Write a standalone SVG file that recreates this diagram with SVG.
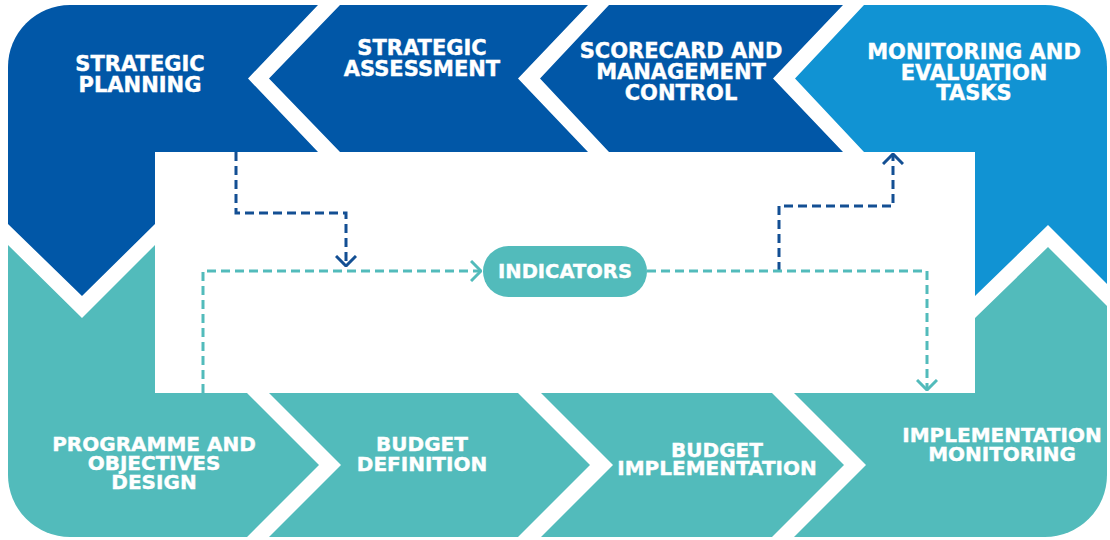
<svg xmlns="http://www.w3.org/2000/svg" width="1110" height="540" viewBox="0 0 1110 540">
<style>
.dk{fill:#0157A7}
.lb{fill:#1193D3}
.tl{fill:#52BBBB}
.lbl{font-family:"DejaVu Sans","Liberation Sans",sans-serif;font-weight:bold;fill:#ffffff;stroke:#ffffff;stroke-width:0.4;text-anchor:middle}
.top{font-size:21px}
.bot{font-size:20px}
.cd{fill:none;stroke:#134F93;stroke-width:3;stroke-dasharray:9 5}
.ct{fill:none;stroke:#52BBBB;stroke-width:3;stroke-dasharray:9 5}
</style>
<defs>
<clipPath id="outer"><rect x="8" y="5" width="1099" height="532" rx="62" ry="62"/></clipPath>
<marker id="ad" markerUnits="userSpaceOnUse" markerWidth="12" markerHeight="22" viewBox="0 0 12 22" refX="11" refY="11" orient="auto"><path d="M1,1 L11,11 L1,21" fill="none" stroke="#134F93" stroke-width="3" stroke-dasharray="none"/></marker>
<marker id="at" markerUnits="userSpaceOnUse" markerWidth="12" markerHeight="22" viewBox="0 0 12 22" refX="11" refY="11" orient="auto"><path d="M1,1 L11,11 L1,21" fill="none" stroke="#52BBBB" stroke-width="3" stroke-dasharray="none"/></marker>
</defs>
<rect width="1110" height="540" fill="#ffffff"/>
<g clip-path="url(#outer)">
<g id="strategic-planning">
<path class="dk" d="M8,5 L318,5 L248,78.5 L318,152 L155,152 L155,224 L82,296 L8,224 Z"/>
<text class="lbl top" x="140" y="71">STRATEGIC</text>
<text class="lbl top" x="140" y="92">PLANNING</text>
</g>
<g id="strategic-assessment">
<path class="dk" d="M340,5 L588,5 L518,78.5 L588,152 L340,152 L269,78.5 Z"/>
<text class="lbl top" x="422" y="55">STRATEGIC</text>
<text class="lbl top" x="422" y="76">ASSESSMENT</text>
</g>
<g id="scorecard">
<path class="dk" d="M609,5 L843,5 L773,78.5 L843,152 L609,152 L540,78.5 Z"/>
<text class="lbl top" x="681" y="58">SCORECARD AND</text>
<text class="lbl top" x="681" y="79">MANAGEMENT</text>
<text class="lbl top" x="681" y="100">CONTROL</text>
</g>
<g id="monitoring-evaluation">
<path class="lb" d="M864,5 L1107,5 L1107,284 L1048,225 L975,296 L975,152 L864,152 L795,78.5 Z"/>
<text class="lbl top" x="974" y="59">MONITORING AND</text>
<text class="lbl top" x="974" y="80">EVALUATION</text>
<text class="lbl top" x="974" y="100">TASKS</text>
</g>
<g id="programme-design">
<path class="tl" d="M8,245 L82,318 L155,245 L155,393 L247,393 L319,465 L247,537 L8,537 Z"/>
<text class="lbl bot" x="154" y="451">PROGRAMME AND</text>
<text class="lbl bot" x="154" y="470">OBJECTIVES</text>
<text class="lbl bot" x="154" y="489">DESIGN</text>
</g>
<g id="budget-definition">
<path class="tl" d="M269,393 L518,393 L590,465 L518,537 L269,537 L341,465 Z"/>
<text class="lbl bot" x="422" y="451">BUDGET</text>
<text class="lbl bot" x="422" y="471">DEFINITION</text>
</g>
<g id="budget-implementation">
<path class="tl" d="M541,393 L772,393 L844,465 L772,537 L541,537 L613,465 Z"/>
<text class="lbl bot" x="717" y="457">BUDGET</text>
<text class="lbl bot" x="717" y="475">IMPLEMENTATION</text>
</g>
<g id="implementation-monitoring">
<path class="tl" d="M794,393 L975,393 L975,318 L1048,247 L1107,306 L1107,537 L794,537 L866,465 Z"/>
<text class="lbl bot" x="1002" y="442">IMPLEMENTATION</text>
<text class="lbl bot" x="1002" y="461">MONITORING</text>
</g>
</g>
<g id="connectors">
<path class="cd" d="M236,152 V213 H346 V266" marker-end="url(#ad)"/>
<path class="cd" d="M779,271 V206 H893 V154" marker-end="url(#ad)"/>
<path class="ct" d="M203,393 V271 H481" marker-end="url(#at)"/>
<path class="ct" d="M647,271 H927 V390" marker-end="url(#at)"/>
</g>
<g id="indicators">
<rect x="483" y="246" width="164" height="51" rx="25.5" fill="#52BBBB"/>
<text class="lbl" x="565" y="278" font-size="19.5">INDICATORS</text>
</g>
</svg>
